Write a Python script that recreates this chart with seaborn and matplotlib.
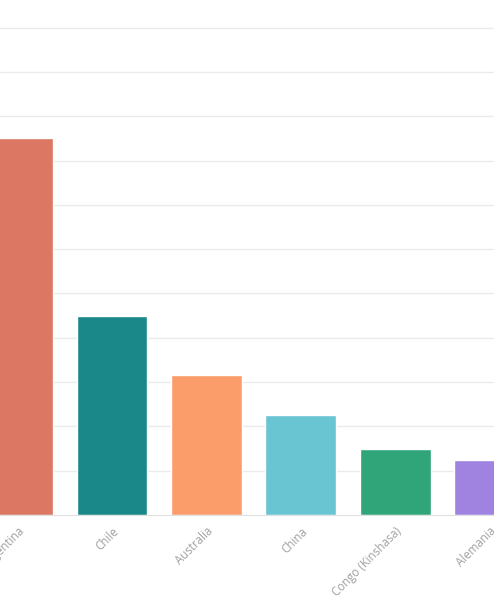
import pandas as pd
import matplotlib.pyplot as plt
import seaborn as sns

# lithium resources (millions of tonnes), visible part of the chart
paises = ["Argentina", "Chile", "Australia", "China", "Congo (Kinshasa)", "Alemania"]
recursos = [17.0, 9.0, 6.3, 4.5, 3.0, 2.5]
colores = ["#DB7763", "#1A8888", "#FB9D6B", "#6AC5D3", "#30A57A", "#A083E0"]

df = pd.DataFrame({"pais": paises, "recursos": recursos})

sns.set_style("white")
plt.rcParams["font.family"] = ["Open Sans", "DejaVu Sans"]

fig = plt.figure(figsize=(4.94, 6.16), dpi=100)
ax = fig.add_axes([0, 101 / 616, 1, 515 / 616])

sns.barplot(data=df, x="pais", y="recursos", hue="pais", palette=colores,
            width=0.75, saturation=1, legend=False, ax=ax)

ax.set_xlim(-0.186, 5.047)
ax.set_ylim(0, 23.25)
ax.set_yticks(range(2, 24, 2))
ax.yaxis.grid(True, color="#ebebeb", linewidth=1)
ax.set_axisbelow(True)
ax.tick_params(axis="y", left=False, labelleft=False)
ax.tick_params(axis="x", length=4, color="#e0e0e0", labelcolor="#a0a0a0",
               labelsize=8.3, pad=3)
plt.setp(ax.get_xticklabels(), rotation=45, ha="right", rotation_mode="anchor")
for s in ["top", "left", "right"]:
    ax.spines[s].set_visible(False)
ax.spines["bottom"].set_color("#e0e0e0")
ax.set_xlabel("")
ax.set_ylabel("")

fig.savefig("out.png", dpi=100)
